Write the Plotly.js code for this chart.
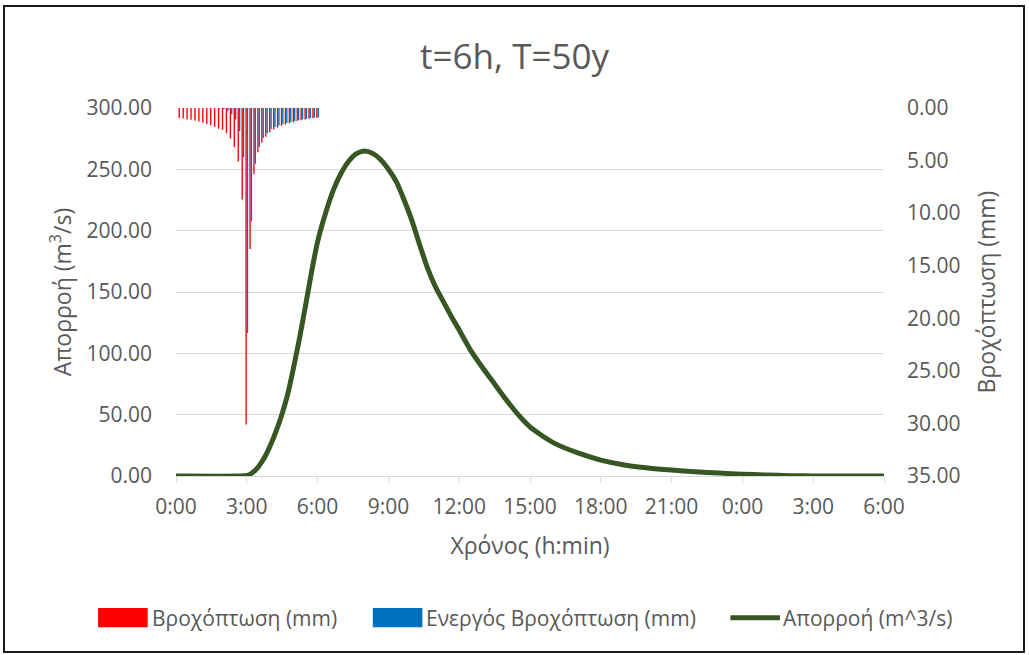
<!DOCTYPE html>
<html>
<head>
<meta charset="utf-8">
<script src="https://cdn.plot.ly/plotly-3.0.1.min.js"></script>
<style>
  html, body { margin: 0; padding: 0; background: #ffffff; }
  #chart { position: absolute; left: 0; top: 0; width: 1029px; height: 655px; }
  #frame { position: absolute; left: 3px; top: 5px; width: 1018px; height: 644px;
           border: 2px solid #1a1a1a; pointer-events: none; }
</style>
</head>
<body>
<div id="chart"></div>
<div id="frame"></div>
<script>
// Rainfall time steps (10-minute blocks, 6-hour storm)
const rainTimes = [
  "2000-01-01 00:10","2000-01-01 00:20","2000-01-01 00:30","2000-01-01 00:40","2000-01-01 00:50","2000-01-01 01:00",
  "2000-01-01 01:10","2000-01-01 01:20","2000-01-01 01:30","2000-01-01 01:40","2000-01-01 01:50","2000-01-01 02:00",
  "2000-01-01 02:10","2000-01-01 02:20","2000-01-01 02:30","2000-01-01 02:40","2000-01-01 02:50","2000-01-01 03:00",
  "2000-01-01 03:10","2000-01-01 03:20","2000-01-01 03:30","2000-01-01 03:40","2000-01-01 03:50","2000-01-01 04:00",
  "2000-01-01 04:10","2000-01-01 04:20","2000-01-01 04:30","2000-01-01 04:40","2000-01-01 04:50","2000-01-01 05:00",
  "2000-01-01 05:10","2000-01-01 05:20","2000-01-01 05:30","2000-01-01 05:40","2000-01-01 05:50","2000-01-01 06:00"
];

// Total rainfall per block (mm)
const rainTotal = [
  0.96, 0.99, 1.06, 1.12, 1.20, 1.29,
  1.40, 1.52, 1.64, 1.79, 1.97, 2.10,
  2.40, 2.90, 3.70, 5.10, 8.70, 30.10,
  13.40, 6.30, 4.20, 3.27, 2.73, 2.30,
  2.03, 1.86, 1.70, 1.58, 1.46, 1.35,
  1.24, 1.16, 1.09, 1.02, 0.98, 0.95
];

// Effective rainfall per block (mm)
const rainEffective = [
  0.00, 0.00, 0.00, 0.00, 0.00, 0.00,
  0.00, 0.00, 0.00, 0.00, 0.04, 0.13,
  0.30, 0.60, 1.10, 2.20, 4.70, 21.40,
  10.80, 5.30, 3.70, 2.85, 2.40, 2.03,
  1.80, 1.66, 1.53, 1.42, 1.32, 1.23,
  1.14, 1.07, 1.01, 0.95, 0.91, 0.88
];

// Outflow hydrograph
const flowTimes = [
  "2000-01-01 00:00","2000-01-01 02:45","2000-01-01 03:00","2000-01-01 03:10","2000-01-01 03:20","2000-01-01 03:30",
  "2000-01-01 03:45","2000-01-01 04:00","2000-01-01 04:15","2000-01-01 04:30","2000-01-01 04:45","2000-01-01 05:00",
  "2000-01-01 05:15","2000-01-01 05:30","2000-01-01 05:45","2000-01-01 06:00","2000-01-01 06:20","2000-01-01 06:40",
  "2000-01-01 07:00","2000-01-01 07:20","2000-01-01 07:40","2000-01-01 08:00","2000-01-01 08:20","2000-01-01 08:40",
  "2000-01-01 09:00","2000-01-01 09:20","2000-01-01 09:40","2000-01-01 10:00","2000-01-01 10:20","2000-01-01 10:40",
  "2000-01-01 11:00","2000-01-01 11:20","2000-01-01 11:40","2000-01-01 12:00","2000-01-01 12:30","2000-01-01 13:00",
  "2000-01-01 13:30","2000-01-01 14:00","2000-01-01 14:30","2000-01-01 15:00","2000-01-01 15:30","2000-01-01 16:00",
  "2000-01-01 17:00","2000-01-01 18:00","2000-01-01 19:00","2000-01-01 20:00","2000-01-01 21:00","2000-01-01 22:00",
  "2000-01-01 23:00","2000-01-02 00:00","2000-01-02 01:00","2000-01-02 02:00","2000-01-02 03:00","2000-01-02 06:00"
];
const flowValues = [
  0, 0, 0.4, 1.8, 4.2, 7.8,
  15, 25, 37, 51, 68, 90,
  114, 140, 167, 191, 214, 233,
  247, 257, 263, 265, 263, 258,
  250, 240, 225, 208, 188, 169,
  154, 142, 130, 119, 102, 88,
  75, 62, 50, 40, 33, 27,
  19, 13, 9, 6.5, 4.8, 3.5,
  2.4, 1.5, 0.8, 0.3, 0, 0
];

const seriesNames = ["Βροχόπτωση (mm)", "Ενεργός Βροχόπτωση (mm)", "Απορροή (m^3/s)"];
const seriesColors = ["#ff0000", "#0070c0", "#375623"];

const FONT = "Open Sans, Noto Sans, sans-serif";
const GREY = "#595959";

const traces = [
  {
    type: "bar", name: seriesNames[0], x: rainTimes, y: rainTotal,
    yaxis: "y2", marker: { color: seriesColors[0], line: { width: 0 } }, showlegend: false
  },
  {
    type: "bar", name: seriesNames[1], x: rainTimes, y: rainEffective,
    yaxis: "y2", marker: { color: seriesColors[1], line: { width: 0 } }, showlegend: false
  },
  {
    type: "scatter", mode: "lines", name: seriesNames[2], x: flowTimes, y: flowValues,
    line: { color: seriesColors[2], width: 5, shape: "spline", smoothing: 0.6 }, showlegend: false
  }
];

// Legend drawn as swatches + labels below the plot
const legendY = -0.385;
const LEG = { family: FONT, size: 21, color: GREY };
const shapes = [
  { type: "rect", xref: "paper", yref: "paper", x0: -0.110, x1: -0.040, y0: legendY - 0.026, y1: legendY + 0.026,
    fillcolor: seriesColors[0], line: { width: 0 } },
  { type: "rect", xref: "paper", yref: "paper", x0: 0.278, x1: 0.348, y0: legendY - 0.026, y1: legendY + 0.026,
    fillcolor: seriesColors[1], line: { width: 0 } },
  { type: "line", xref: "paper", yref: "paper", x0: 0.783, x1: 0.853, y0: legendY, y1: legendY,
    line: { color: seriesColors[2], width: 5 } }
];
const annotations = [
  { xref: "paper", yref: "paper", x: -0.037, y: legendY, xanchor: "left", yanchor: "middle", showarrow: false,
    text: seriesNames[0], font: LEG },
  { xref: "paper", yref: "paper", x: 0.350, y: legendY, xanchor: "left", yanchor: "middle", showarrow: false,
    text: seriesNames[1], font: LEG },
  { xref: "paper", yref: "paper", x: 0.855, y: legendY, xanchor: "left", yanchor: "middle", showarrow: false,
    text: seriesNames[2], font: LEG }
];

const TICK = { family: FONT, size: 21, color: GREY };
const AXT = { family: FONT, size: 23, color: GREY };

const layout = {
  width: 1029, height: 655,
  margin: { l: 176, r: 145, t: 108, b: 179 },
  paper_bgcolor: "rgba(0,0,0,0)", plot_bgcolor: "#ffffff",
  font: { family: FONT, color: GREY },
  title: { text: "t=6h, T=50y", font: { family: FONT, size: 35, color: GREY },
           x: 0.5, xref: "container", y: 0.913, yanchor: "middle" },
  barmode: "group", bargap: 0.3, bargroupgap: 0,
  xaxis: {
    type: "date",
    range: ["2000-01-01 00:00", "2000-01-02 06:00"],
    tickformat: "%-H:%M", dtick: 3 * 3600 * 1000, tick0: "2000-01-01 00:00",
    showgrid: false, zeroline: false,
    showline: true, linecolor: "#d9d9d9", linewidth: 1,
    ticks: "outside", ticklen: 6, tickcolor: "#d9d9d9",
    ticklabelstandoff: 6,
    tickfont: TICK,
    title: { text: "Χρόνος (h:min)", font: AXT, standoff: 18 }
  },
  yaxis: {
    range: [0, 300], dtick: 50, tickformat: ".2f",
    showgrid: true, gridcolor: "#d9d9d9", gridwidth: 1, zeroline: false,
    showline: false, ticks: "",
    ticklabelstandoff: 23,
    tickfont: TICK,
    title: { text: "Απορροή (m<sup>3</sup>/s)", font: AXT, standoff: 8 }
  },
  yaxis2: {
    overlaying: "y", side: "right",
    range: [35, 0], dtick: 5, tickformat: ".2f",
    showgrid: false, zeroline: false, showline: false, ticks: "",
    ticklabelstandoff: 22,
    tickfont: TICK,
    title: { text: "Βροχόπτωση (mm)", font: AXT, standoff: 19 }
  },
  shapes: shapes,
  annotations: annotations
};

Plotly.newPlot("chart", traces, layout, { displayModeBar: false, staticPlot: true });
</script>
</body>
</html>
